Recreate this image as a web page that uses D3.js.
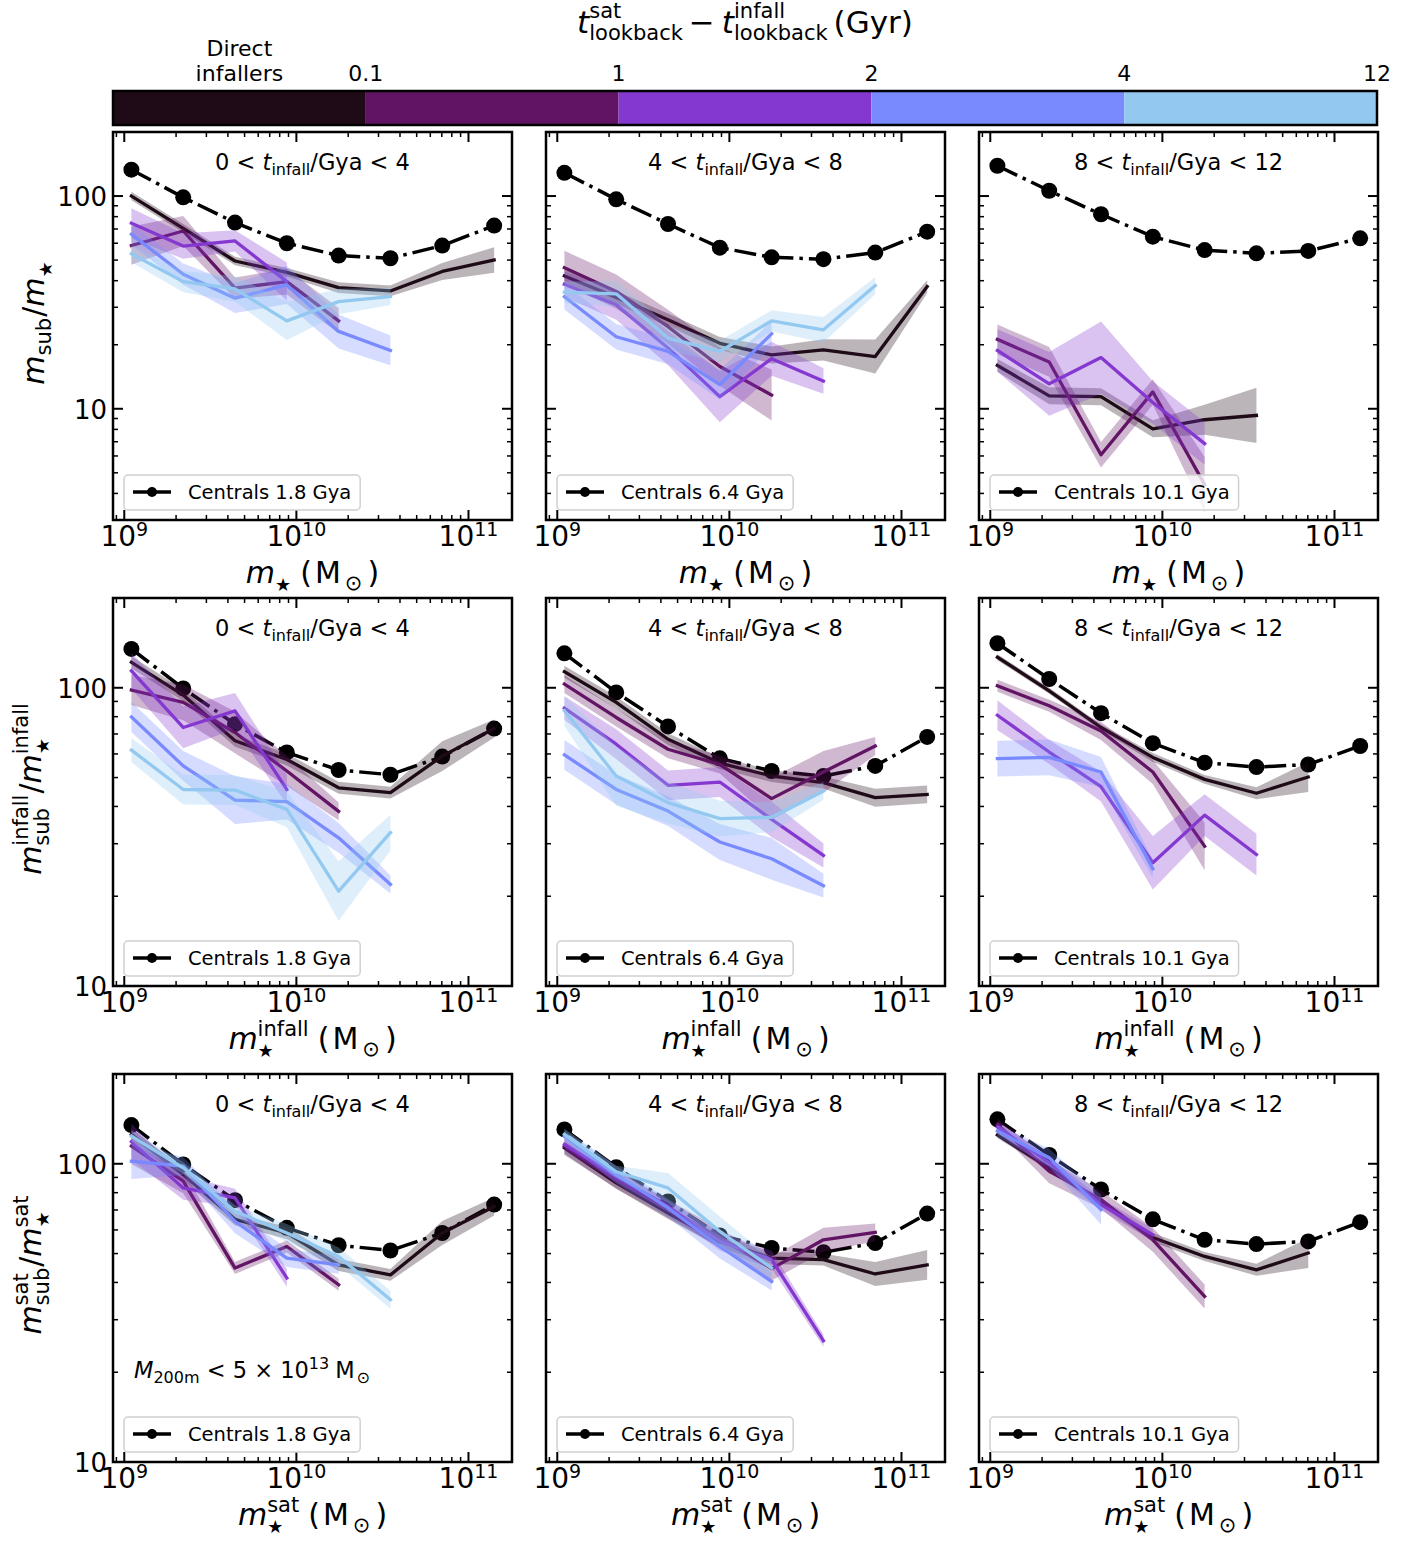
<!DOCTYPE html>
<html>
<head>
<meta charset="utf-8">
<script src="https://cdn.jsdelivr.net/npm/d3@7"></script>
<style>
body { margin: 0; background: #fff; }
text { font-family: "DejaVu Sans", sans-serif; fill: #000; white-space: pre; }
</style>
</head>
<body>
<svg id="fig"></svg>
<script>
//stellar mass bin centres (Msun), shared by every panel
var massBins = [1.1e9, 2.2e9, 4.4e9, 8.8e9, 1.76e10, 3.52e10, 7.04e10, 1.41e11]

//colour bins of t_sat - t_infall: direct infallers, 0.1-1, 1-2, 2-4, 4-12 Gyr
var binColors = ["#1e0b17", "#621464", "#8438d0", "#788afe", "#93c9f1"]
var cbarTicks = ["0.1", "1", "2", "4", "12"]

var infallRanges = [["0", "4"], ["4", "8"], ["8", "12"]]
var centralAges = ["1.8", "6.4", "10.1"]

//row 1 : msub / mstar
var centralsNow = [
	[133, 98.6, 75, 60, 52.5, 51, 58.5, 72.6],
	[128.6, 96.5, 73.9, 57.2, 51.5, 50.5, 54.2, 68.0],
	[138.8, 105.9, 82.1, 64.4, 55.7, 53.8, 55.2, 63.3]]
var ratioNow_0_4 = [
	[100, 70.5, 49.5, 43.8, 37.1, 35.8, 44.2, 50.1],
	[58.5, 68.5, 36.9, 39.6, 25.9],
	[74.5, 58.2, 61.5, 39.6],
	[66.1, 42.9, 33.1, 38.2, 23.1, 18.8],
	[53.5, 39.6, 36.6, 25.9, 31.9, 33.7]]
var errNow_0_4 = [
	[0.02, 0.02, 0.02, 0.02, 0.025, 0.025, 0.04, 0.06],
	[0.09, 0.07, 0.05, 0.06, 0.06],
	[0.07, 0.06, 0.05, 0.09],
	[0.05, 0.05, 0.07, 0.09, 0.08, 0.07],
	[0.04, 0.05, 0.06, 0.09, 0.06, 0.04]]
var ratioNow_4_8 = [
	[42.1, 33.4, 26.2, 20.3, 17.9, 18.9, 17.6, 37.5],
	[46.0, 35.6, 24.3, 15.8, 11.6],
	[38.5, 30.8, 19.3, 11.4, 17.2, 13.5],
	[33.6, 21.8, 18.6, 13.0, 22.5],
	[35.3, 34.7, 21.5, 18.6, 25.9, 23.5, 37.9]]
var errNow_4_8 = [
	[0.03, 0.03, 0.03, 0.03, 0.04, 0.05, 0.08, 0.03],
	[0.08, 0.08, 0.08, 0.09, 0.12],
	[0.06, 0.07, 0.08, 0.12, 0.08, 0.06],
	[0.06, 0.06, 0.06, 0.07, 0.06],
	[0.05, 0.06, 0.06, 0.05, 0.05, 0.06, 0.04]]
var ratioNow_8_12 = [
	[16.0, 11.5, 11.4, 8.05, 8.88, 9.31],
	[21.2, 16.6, 6.08, 12.0, 4.4],
	[18.8, 13.1, 17.4, 10.7, 6.86],
	[],
	[]]
var errNow_8_12 = [
	[0.03, 0.04, 0.04, 0.04, 0.07, 0.13],
	[0.07, 0.07, 0.06, 0.06, 0.13],
	[0.10, 0.15, 0.17, 0.10, 0.10],
	[],
	[]]

//row 2 : msub / mstar at infall
var centralsInfall = [
	[135, 99.5, 75.5, 60.7, 53.0, 51.1, 58.8, 73.0],
	[130.5, 96.5, 74.2, 58.0, 52.6, 50.6, 54.7, 68.4],
	[141, 107, 82.2, 65.2, 56.1, 54.2, 55.3, 63.8]]
var ratioInfall_0_4 = [
	[121.7, 94.5, 66.4, 57.5, 46.2, 44.5, 59.0, 73.0],
	[98.3, 89.3, 70.8, 52.6, 38.5],
	[114, 73.6, 83.7, 45.6],
	[79.8, 54.7, 42.0, 41.5, 31.4, 21.9],
	[61.8, 45.6, 45.4, 39.1, 20.8, 32.7]]
var errInfall_0_4 = [
	[0.02, 0.02, 0.02, 0.02, 0.02, 0.02, 0.05, 0.03],
	[0.05, 0.06, 0.07, 0.05, 0.03],
	[0.06, 0.07, 0.06, 0.05],
	[0.05, 0.05, 0.08, 0.06, 0.05, 0.03],
	[0.04, 0.05, 0.05, 0.06, 0.1, 0.06]]
var ratioInfall_4_8 = [
	[113.2, 89.3, 67.2, 55.9, 50.6, 48.1, 42.8, 43.9],
	[102.9, 79.5, 62.2, 55.3, 42.5, 52.2, 63.8],
	[85.5, 64.7, 47.1, 48.3, 36.2, 27.4],
	[59.6, 45.6, 38.6, 30.4, 26.7, 21.7],
	[83.7, 50.6, 41.2, 36.4, 36.8, 45.1]]
var errInfall_4_8 = [
	[0.02, 0.02, 0.02, 0.02, 0.02, 0.02, 0.03, 0.03],
	[0.03, 0.03, 0.03, 0.03, 0.07, 0.07, 0.03],
	[0.04, 0.05, 0.05, 0.05, 0.06, 0.04],
	[0.05, 0.05, 0.05, 0.06, 0.07, 0.04],
	[0.05, 0.1, 0.07, 0.06, 0.05, 0.03]]
var ratioInfall_8_12 = [
	[126.6, 97.7, 73.6, 58.4, 49.3, 44.3, 50.2],
	[101.6, 87.0, 71.6, 52.2, 29.4],
	[80.9, 60.9, 46.6, 25.9, 37.4, 27.6],
	[57.9, 58.4, 52.2, 24.7],
	[]]
var errInfall_8_12 = [
	[0.01, 0.01, 0.01, 0.015, 0.015, 0.02, 0.05],
	[0.02, 0.02, 0.03, 0.04, 0.08],
	[0.05, 0.04, 0.05, 0.09, 0.07, 0.07],
	[0.06, 0.06, 0.05, 0.03],
	[]]

//row 3 : msub / mstar when becoming a satellite
var centralsSat = [
	[134.8, 99.5, 75.5, 61.0, 53.3, 51.2, 58.6, 73.0],
	[130.4, 97.4, 74.8, 57.5, 52.2, 50.5, 54.2, 68.1],
	[140.9, 107.0, 82.0, 65.1, 55.6, 53.8, 54.9, 63.7]]
var ratioSat_0_4 = [
	[125.5, 92.0, 65.1, 58.6, 45.8, 42.4, 58.6, 71.9],
	[114.6, 87.4, 44.7, 52.8, 39.3],
	[118.6, 83.0, 76.9, 41.4],
	[102.0, 98.2, 64.1, 48.3, 45.8],
	[123.8, 96.9, 69.3, 58.6, 48.9, 35.0]]
var errSat_0_4 = [
	[0.02, 0.02, 0.02, 0.02, 0.02, 0.02, 0.04, 0.03],
	[0.06, 0.04, 0.02, 0.02, 0.02],
	[0.06, 0.04, 0.03, 0.03],
	[0.06, 0.03, 0.04, 0.03, 0.03],
	[0.02, 0.02, 0.02, 0.03, 0.03, 0.03]]
var ratioSat_4_8 = [
	[113.2, 86.3, 68.4, 54.9, 48.3, 47.7, 42.7, 45.8],
	[114.6, 88.5, 70.8, 56.4, 44.5, 55.6, 58.9],
	[116.1, 90.8, 71.9, 54.9, 47.7, 25.5],
	[123.8, 92.0, 71.1, 52.8, 40.3],
	[125.5, 94.0, 83.0, 59.3, 44.7]]
var errSat_4_8 = [
	[0.02, 0.02, 0.02, 0.02, 0.02, 0.02, 0.04, 0.05],
	[0.03, 0.03, 0.03, 0.03, 0.04, 0.04, 0.03],
	[0.02, 0.02, 0.02, 0.03, 0.03, 0.02],
	[0.02, 0.03, 0.03, 0.04, 0.03],
	[0.02, 0.02, 0.05, 0.05, 0.03]]
var ratioSat_8_12 = [
	[124.8, 96.9, 74.0, 56.6, 48.9, 44.1, 50.2],
	[135.4, 94.4, 75.8, 55.6, 35.9],
	[132.7, 100.8, 73.0, 57.8],
	[128.8, 104.8, 70.2],
	[]]
var errSat_8_12 = [
	[0.01, 0.01, 0.01, 0.015, 0.015, 0.02, 0.05],
	[0.02, 0.04, 0.03, 0.04, 0.04],
	[0.02, 0.02, 0.02, 0.02],
	[0.02, 0.03, 0.05],
	[]]

//Set the size and select the svg
var width = 1424
var height = 1543
var svg = d3.select("#fig").attr("width", width).attr("height", height)
svg.append("rect").attr("width", width).attr("height", height).attr("fill", "#fff")

var panelX = [113, 546, 979]
var panelY = [132, 598, 1074]
var panelW = 399
var panelH = 388

//lays out a little piece of "math" text, pieces can be stacked (sub under sup)
function mtext(parent, pieces, x, y, anchor, rotate) {
	var g = parent.append("g")
		.attr("transform", "translate(" + x + "," + y + ")" + (rotate ? " rotate(" + rotate + ")" : ""))
	var inner = g.append("g")
	var cx = 0, start = 0
	pieces.forEach(function(p) {
		var t = inner.append("text")
			.attr("font-size", p.s)
			.attr("y", p.dy || 0)
			.attr("font-style", p.it ? "italic" : "normal")
			.text(p.t)
		var w = t.node().getComputedTextLength()
		if (p.stack) {
			t.attr("x", start)
			cx = Math.max(cx, start + w)
		} else {
			cx += p.gap || 0
			t.attr("x", cx)
			start = cx
			cx += w
		}
	})
	var shift = anchor == "middle" ? -cx / 2 : anchor == "end" ? -cx : 0
	inner.attr("transform", "translate(" + shift + ",0)")
	return cx
}

//axis label pieces
var FS = 30, SS = 21
function star(stack) { return {t: "\u2605", s: 18, dy: 8, stack: stack} }
function sunUnit() {
	return [{t: "(", s: FS, gap: 9}, {t: "M", s: FS, gap: 3}, {t: "\u2299", s: SS, dy: 7, gap: 4}, {t: ")", s: FS, gap: 5}]
}
function ratioLabel(sup) {
	if (!sup) return [{t: "m", s: FS, it: 1}, {t: "sub", s: SS, dy: 7}, {t: "/", s: FS, gap: 1}, {t: "m", s: FS, it: 1}, star(0)]
	return [{t: "m", s: FS, it: 1}, {t: sup, s: SS, dy: -13}, {t: "sub", s: SS, dy: 8, stack: 1}, {t: "/", s: FS, gap: 1},
	        {t: "m", s: FS, it: 1}, {t: sup, s: SS, dy: -13}, star(1)]
}
function massLabel(sup) {
	if (!sup) return [{t: "m", s: FS, it: 1}, star(0)].concat(sunUnit())
	return [{t: "m", s: FS, it: 1}, {t: sup, s: SS, dy: -13}, star(1)].concat(sunUnit())
}
var rows = [
	{ ydom: [3, 200], centrals: centralsNow,
	  series: [ratioNow_0_4, ratioNow_4_8, ratioNow_8_12],
	  errs: [errNow_0_4, errNow_4_8, errNow_8_12],
	  ylab: ratioLabel(null), xlab: massLabel(null), ylabX: 44 },
	{ ydom: [10, 200], centrals: centralsInfall,
	  series: [ratioInfall_0_4, ratioInfall_4_8, ratioInfall_8_12],
	  errs: [errInfall_0_4, errInfall_4_8, errInfall_8_12],
	  ylab: ratioLabel("infall"), xlab: massLabel("infall"), ylabX: 41 },
	{ ydom: [10, 200], centrals: centralsSat,
	  series: [ratioSat_0_4, ratioSat_4_8, ratioSat_8_12],
	  errs: [errSat_0_4, errSat_4_8, errSat_8_12],
	  ylab: ratioLabel("sat"), xlab: massLabel("sat"), ylabX: 41 }
]

//Colour bar on top
var cbX = d3.scaleLinear().domain([0, 5]).range([113, 1377])
binColors.forEach(function(c, i) {
	svg.append("rect").attr("x", cbX(i)).attr("y", 91).attr("width", cbX(i + 1) - cbX(i)).attr("height", 34).attr("fill", c)
})
svg.append("rect").attr("x", 113).attr("y", 91).attr("width", 1264).attr("height", 34)
	.attr("fill", "none").attr("stroke", "#000").attr("stroke-width", 2.5)
cbarTicks.forEach(function(t, i) {
	svg.append("text").attr("x", cbX(i + 1)).attr("y", 81).attr("text-anchor", "middle").attr("font-size", 22).text(t)
})
svg.append("text").attr("x", cbX(0.5)).attr("y", 56).attr("text-anchor", "middle").attr("font-size", 22).text("Direct")
svg.append("text").attr("x", cbX(0.5)).attr("y", 81).attr("text-anchor", "middle").attr("font-size", 22).text("infallers")
mtext(svg, [{t: "t", s: 31, it: 1}, {t: "sat", s: 21, dy: -15}, {t: "lookback", s: 21, dy: 7, stack: 1},
	{t: "\u2212", s: 31, gap: 6}, {t: "t", s: 31, it: 1, gap: 7}, {t: "infall", s: 21, dy: -15}, {t: "lookback", s: 21, dy: 7, stack: 1},
	{t: "(Gyr)", s: 31, gap: 6}], 745, 33, "middle")

//Print every panel
rows.forEach(function(row, r) {
	for (var c = 0; c < 3; c++) {
		var x0 = panelX[c], y0 = panelY[r]
		var g = svg.append("g")
		var x = d3.scaleLog().domain([8.6e8, 1.79e11]).range([x0, x0 + panelW])
		var y = d3.scaleLog().domain(row.ydom).range([y0 + panelH, y0])

		//ticks, all pointing inwards
		var xMajor = [1e9, 1e10, 1e11], xMinor = []
		for (var k = 8; k <= 11; k++) for (var m = 2; m <= 9; m++) {
			var v = m * Math.pow(10, k)
			if (v > 8.6e8 && v < 1.79e11) xMinor.push(v)
		}
		var yMajor = [10, 100], yMinor = []
		for (var k = 0; k <= 2; k++) for (var m = 2; m <= 9; m++) {
			var v = m * Math.pow(10, k)
			if (v >= row.ydom[0] && v <= row.ydom[1]) yMinor.push(v)
		}
		function xt(vals, len, w) {
			vals.forEach(function(v) {
				g.append("line").attr("x1", x(v)).attr("x2", x(v)).attr("y1", y0 + panelH).attr("y2", y0 + panelH - len).attr("stroke", "#000").attr("stroke-width", w)
				g.append("line").attr("x1", x(v)).attr("x2", x(v)).attr("y1", y0).attr("y2", y0 + len).attr("stroke", "#000").attr("stroke-width", w)
			})
		}
		function yt(vals, len, w) {
			vals.forEach(function(v) {
				g.append("line").attr("y1", y(v)).attr("y2", y(v)).attr("x1", x0).attr("x2", x0 + len).attr("stroke", "#000").attr("stroke-width", w)
				g.append("line").attr("y1", y(v)).attr("y2", y(v)).attr("x1", x0 + panelW).attr("x2", x0 + panelW - len).attr("stroke", "#000").attr("stroke-width", w)
			})
		}
		xt(xMajor, 10, 2); xt(xMinor, 5, 1.5)
		yt(yMajor, 10, 2); yt(yMinor, 5, 1.5)

		//centrals: dash-dot line with big dots
		var cpts = row.centrals[c].map(function(v, i) { return [massBins[i], v] })
		g.append("path")
			.attr("d", d3.line().x(d => x(d[0])).y(d => y(d[1]))(cpts))
			.attr("fill", "none").attr("stroke", "#000").attr("stroke-width", 3.5)
			.attr("stroke-dasharray", "22,6,3.5,6")
		g.selectAll(".dot").data(cpts).enter().append("circle")
			.attr("cx", d => x(d[0])).attr("cy", d => y(d[1])).attr("r", 8).attr("fill", "#000")

		//satellites coloured by delay, shaded band then line
		row.series[c].forEach(function(vals, i) {
			if (!vals.length) return
			var errs = row.errs[c][i]
			var pts = vals.map(function(v, j) { return {m: massBins[j], v: v, e: errs[j]} })
			var band = d3.area()
				.x(d => x(d.m))
				.y0(d => y(d.v * Math.pow(10, -d.e)))
				.y1(d => y(d.v * Math.pow(10, d.e)))
			g.append("path").attr("d", band(pts)).attr("fill", binColors[i]).attr("fill-opacity", 0.3)
			g.append("path")
				.attr("d", d3.line().x(d => x(d.m)).y(d => y(d.v))(pts))
				.attr("fill", "none").attr("stroke", binColors[i]).attr("stroke-width", 3.3)
				.attr("stroke-linejoin", "round").attr("stroke-linecap", "square")
		})

		//frame
		g.append("rect").attr("x", x0).attr("y", y0).attr("width", panelW).attr("height", panelH)
			.attr("fill", "none").attr("stroke", "#000").attr("stroke-width", 2.5)

		//tick labels
		xMajor.forEach(function(v) {
			mtext(g, [{t: "10", s: 28}, {t: String(Math.round(Math.log10(v))), s: 19, dy: -10}], x(v), y0 + panelH + 26, "middle")
		})
		if (c == 0) {
			yMajor.forEach(function(v) {
				g.append("text").attr("x", x0 - 6).attr("y", y(v) + 10).attr("text-anchor", "end").attr("font-size", 26).text(v)
			})
			mtext(g, row.ylab, row.ylabX, y0 + panelH / 2 - 3, "middle", -90)
		}
		mtext(g, row.xlab, x0 + panelW / 2, y0 + panelH + 63, "middle")

		//title
		mtext(g, [{t: infallRanges[c][0] + " < ", s: 22.5}, {t: "t", s: 22.5, it: 1}, {t: "infall", s: 16, dy: 5},
			{t: "/Gya < " + infallRanges[c][1], s: 22.5}], x0 + panelW / 2, y0 + 38, "middle")

		//legend
		var lg = g.append("g")
		var box = lg.append("rect").attr("x", x0 + 11).attr("y", y0 + panelH - 45).attr("height", 35)
			.attr("rx", 4).attr("fill", "#fff").attr("fill-opacity", 0.8).attr("stroke", "#d0d0d0").attr("stroke-width", 1.5)
		var ly = y0 + panelH - 28
		lg.append("line").attr("x1", x0 + 20).attr("x2", x0 + 58).attr("y1", ly).attr("y2", ly).attr("stroke", "#000").attr("stroke-width", 3.5)
		lg.append("circle").attr("cx", x0 + 39).attr("cy", ly).attr("r", 5).attr("fill", "#000")
		var lt = lg.append("text").attr("x", x0 + 75).attr("y", ly + 7).attr("font-size", 19.5).text("Centrals " + centralAges[c] + " Gya")
		box.attr("width", 75 + lt.node().getComputedTextLength() + 9 - 11)

		if (r == 2 && c == 0) {
			mtext(g, [{t: "M", s: 22.5, it: 1}, {t: "200m", s: 16, dy: 5}, {t: " < 5 \u00d7 10", s: 22.5}, {t: "13", s: 16, dy: -9},
				{t: "M", s: 22.5, gap: 6}, {t: "\u2299", s: 16, dy: 5, gap: 2}], x0 + 21, 1378, "start")
		}
	}
})
</script>
</body>
</html>
